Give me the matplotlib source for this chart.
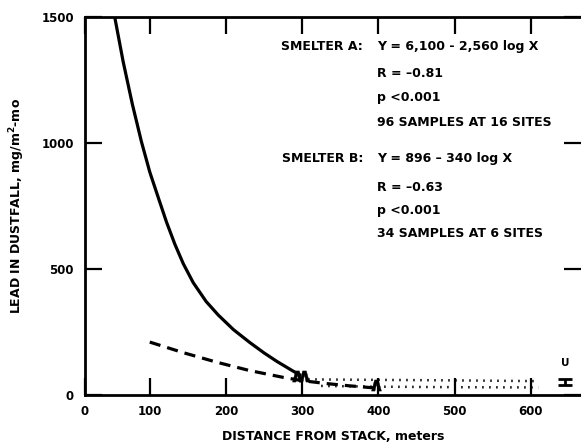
import numpy as np
import matplotlib.pyplot as plt

plt.rcParams['font.family'] = ['DejaVu Sans']
plt.rcParams['font.weight'] = 'bold'
plt.rcParams['axes.labelweight'] = 'bold'

# smelter A (solid)
a_x = [54, 65, 77, 89, 100, 111, 122, 133, 144, 157, 174, 190, 210, 231, 250, 267, 288, 297]
a_y = [1500, 1324, 1156, 1006, 885, 785, 686, 598, 521, 446, 371, 317, 259, 209, 167, 133, 95, 80]

# smelter B (dashed)
b_x = [100, 144, 188, 231, 275, 300, 330, 360, 395]
b_y = [210, 168, 130, 97, 70, 57, 46, 37, 28]

# dotted continuation beyond 300 m
d1_x = [308, 400, 500, 610]
d1_y = [62, 60, 58, 55]
d2_x = [325, 400, 500, 610]
d2_y = [36, 33, 31, 30]

# chevron marks
chev_x = [293, 303, 397]
chev_y = [74, 74, 38]

# "U" bar at right
u_x = 645
u_y = 51
u_err = 12

xtick_vals = [15, 100, 200, 300, 400, 500, 600]
xtick_labels = ['0', '100', '200', '300', '400', '500', '600']
ytick_vals = [0, 500, 1000, 1500]

fig = plt.figure(figsize=(5.81, 4.46), dpi=100)
ax = fig.add_axes([85 / 581, 51 / 446, 496 / 581, 378 / 446])

ax.plot(a_x, a_y, color='black', lw=2.3, solid_capstyle='round')
ax.plot(b_x, b_y, color='black', lw=2.3, dashes=(3.5, 2.2))
ax.plot(d1_x, d1_y, color='black', lw=1.8, linestyle=(0, (0.6, 2.2)))
ax.plot(d2_x, d2_y, color='black', lw=1.8, linestyle=(0, (0.6, 2.2)))
ax.plot(chev_x, chev_y, linestyle='none', marker=r'$\wedge$', color='black',
        markersize=8, markeredgewidth=0.3)
ax.errorbar([u_x], [u_y], yerr=[u_err], color='black', lw=2, capsize=5,
            capthick=2)
ax.text(u_x, u_y + 55, 'U', ha='center', va='bottom', fontsize=7.5)

ax.set_xlim(15, 666)
ax.set_ylim(0, 1500)
ax.set_xticks(xtick_vals, labels=xtick_labels)
ax.set_yticks(ytick_vals)
ax.tick_params(direction='in', length=12, width=1.6, labelsize=8.5,
               top=True, right=True, labeltop=False, labelright=False)
ax.tick_params(axis='y', pad=8)
ax.tick_params(axis='x', pad=7)
for s in ['left', 'bottom', 'top']:
    ax.spines[s].set_linewidth(2)
ax.spines['right'].set_visible(False)

ax.set_xlabel('DISTANCE FROM STACK, meters', fontsize=9, labelpad=9)
ax.set_ylabel('LEAD IN DUSTFALL, mg/m$^\\mathbf{2}$-mo', fontsize=9, labelpad=10)

fs = 9
ax.text(380, 1381, 'SMELTER A:', ha='right', va='center', fontsize=fs)
ax.text(398, 1381, 'Y = 6,100 - 2,560 log X', va='center', fontsize=fs)
ax.text(398, 1274, 'R = \u20130.81', va='center', fontsize=fs)
ax.text(398, 1179, 'p <0.001', va='center', fontsize=fs)
ax.text(398, 1083, '96 SAMPLES AT 16 SITES', va='center', fontsize=fs)
ax.text(380, 937, 'SMELTER B:', ha='right', va='center', fontsize=fs)
ax.text(398, 937, 'Y = 896 \u2013 340 log X', va='center', fontsize=fs)
ax.text(398, 825, 'R = \u20130.63', va='center', fontsize=fs)
ax.text(398, 734, 'p <0.001', va='center', fontsize=fs)
ax.text(398, 639, '34 SAMPLES AT 6 SITES', va='center', fontsize=fs)

fig.savefig('out.png', dpi=100)
